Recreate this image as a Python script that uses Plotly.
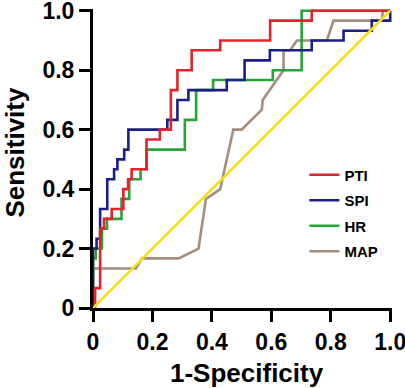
import plotly.graph_objects as go

# ROC data (1-Specificity, Sensitivity)
pti_fpr = [0, 0.007, 0.024, 0.037, 0.063, 0.102, 0.118, 0.13, 0.18, 0.225, 0.262, 0.284, 0.332, 0.428, 0.596, 0.736, 1.0]
pti_tpr = [0, 0, 0.067, 0.267, 0.30, 0.333, 0.40, 0.433, 0.467, 0.567, 0.60, 0.733, 0.80, 0.867, 0.90, 0.967, 1.0]

spi_fpr = [0, 0.012, 0.024, 0.048, 0.071, 0.082, 0.105, 0.119, 0.25, 0.284, 0.321, 0.45, 0.51, 0.595, 0.736, 0.843, 0.938, 1.0, 1.0]
spi_tpr = [0, 0.20, 0.233, 0.333, 0.433, 0.467, 0.50, 0.533, 0.60, 0.633, 0.70, 0.733, 0.767, 0.833, 0.867, 0.90, 0.933, 0.967, 1.0]

hr_fpr = [0, 0.009, 0.03, 0.047, 0.096, 0.122, 0.16, 0.18, 0.309, 0.347, 0.404, 0.605, 0.702, 1.0]
hr_tpr = [0, 0.167, 0.20, 0.267, 0.30, 0.367, 0.433, 0.467, 0.533, 0.633, 0.733, 0.767, 0.80, 1.0]

map_fpr = [0, 0, 0.144, 0.165, 0.288, 0.355, 0.38, 0.428, 0.472, 0.50, 0.568, 0.571, 0.641, 0.641, 0.663, 0.686, 0.787, 0.809, 0.972, 0.975, 1.0]
map_tpr = [0, 0.133, 0.133, 0.167, 0.167, 0.20, 0.367, 0.40, 0.60, 0.60, 0.667, 0.70, 0.80, 0.867, 0.867, 0.90, 0.90, 0.967, 0.967, 1.0, 1.0]

ref_x = [0, 1]
ref_y = [0, 1]

tick_vals = [0, 0.2, 0.4, 0.6, 0.8, 1.0]
tick_text = ["0", "0.2", "0.4", "0.6", "0.8", "1.0"]

FONT = "Liberation Sans, Arial, sans-serif"
LW = 2.6

fig = go.Figure()
fig.add_trace(go.Scatter(x=map_fpr, y=map_tpr, mode="lines", name="MAP",
                         line=dict(color="#A48E7F", width=LW, shape="linear"),
                         legendgroup="d", legendrank=4))
fig.add_trace(go.Scatter(x=hr_fpr, y=hr_tpr, mode="lines", name="HR",
                         line=dict(color="#27A437", width=LW, shape="vh"),
                         legendgroup="c", legendrank=3))
fig.add_trace(go.Scatter(x=spi_fpr, y=spi_tpr, mode="lines", name="SPI",
                         line=dict(color="#1B1F86", width=LW, shape="vh"),
                         legendgroup="b", legendrank=2))
fig.add_trace(go.Scatter(x=pti_fpr, y=pti_tpr, mode="lines", name="PTI",
                         line=dict(color="#E3232C", width=LW, shape="vh"),
                         legendgroup="a", legendrank=1))
fig.add_trace(go.Scatter(x=ref_x, y=ref_y, mode="lines", showlegend=False,
                         line=dict(color="#F7DE16", width=LW)))

axis_common = dict(
    showline=True, linewidth=3, linecolor="black",
    ticks="outside", ticklen=11, tickwidth=3, tickcolor="black",
    showgrid=False, zeroline=False, automargin=False,
    tickvals=tick_vals, ticktext=tick_text, ticklabeloverflow="allow",
    tickfont=dict(family=FONT, size=23, color="black", weight="bold"),
)

title_font = dict(family=FONT, size=26, color="black", weight="bold")

fig.update_layout(
    width=405, height=388,
    margin=dict(l=93, r=13, t=9, b=80),
    paper_bgcolor="white", plot_bgcolor="white",
    font=dict(family=FONT, color="black"),
    hovermode=False,
    xaxis=dict(range=[0, 1.006], **axis_common),
    yaxis=dict(range=[0, 1.006], **axis_common),
    legend=dict(x=0.707, y=0.50, xanchor="left", yanchor="top",
                traceorder="grouped", tracegroupgap=3,
                font=dict(family=FONT, size=15, color="black", weight="bold"),
                bgcolor="rgba(0,0,0,0)", itemwidth=30),
    annotations=[
        dict(text="Sensitivity", textangle=-90, xref="paper", yref="paper",
             x=-0.264, y=0.52, xanchor="center", yanchor="middle",
             showarrow=False, font=title_font),
        dict(text="1-Specificity", xref="paper", yref="paper",
             x=0.515, y=-0.217, xanchor="center", yanchor="middle",
             showarrow=False, font=title_font),
    ],
)

fig.write_html("out.html", config={"displayModeBar": False},
               post_script="document.body.style.margin='0px';document.body.style.overflow='hidden';")
